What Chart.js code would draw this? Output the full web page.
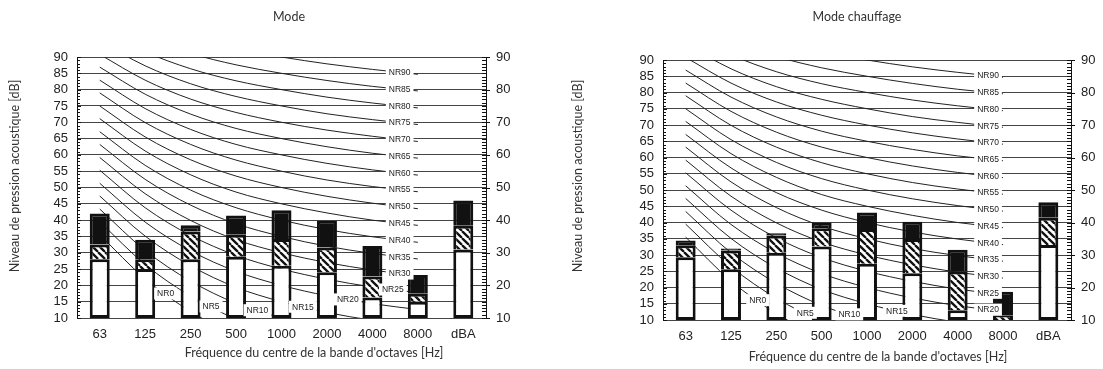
<!DOCTYPE html>
<html>
<head>
<meta charset="utf-8">
<script src="https://cdn.jsdelivr.net/npm/chart.js@4.4.0/dist/chart.umd.min.js"></script>
<style>
html,body{margin:0;padding:0;background:#fff;}
#wrap{position:relative;width:1103px;height:369px;overflow:hidden;}
canvas{position:absolute;top:0;}
</style>
</head>
<body>
<div id="wrap">
  <canvas id="modeChart" width="552" height="369" style="left:0"></canvas>
  <canvas id="chauffChart" width="552" height="369" style="left:551px"></canvas>
</div>
<script>
// octave bands + overall level
const BANDS = ['63','125','250','500','1000','2000','4000','8000','dBA'];

// "Mode": top of each layer in dB (white / hatched / black)
const modeWhite = [28, 25, 28, 28.8, 26, 24, 16.3, 15, 31];
const modeHatch = [32.5, 28, 36.5, 35.5, 34.2, 31.6, 22.7, 17.4, 38.3];
const modeTotal = [42, 34, 38.4, 41.4, 43, 39.8, 32.1, 23.2, 46];

// "Mode chauffage"
const chauffWhite = [29.3, 25.6, 30.7, 32.6, 27.3, 24.4, 13, 10, 33.1];
const chauffHatch = [33, 31.4, 36, 38.2, 38, 34.9, 24.9, 11.5, 41.5];
const chauffTotal = [34.5, 32, 36.7, 40, 43.1, 40.2, 31.6, 18.7, 46.2];

// NR curves, 63..8000 Hz (no value for dBA)
const NR_LEVELS = [0,5,10,15,20,25,30,35,40,45,50,55,60,65,70,75,80,85,90];
const NR_CURVES = [
  [35.5, 22.0, 12.0,  4.8,  0, -3.5, -6.1, -8.0, null],
  [39.5, 26.4, 16.7,  9.7,  5,  1.6, -1.0, -2.9, null],
  [43.4, 30.7, 21.3, 14.5, 10,  6.7,  4.2,  2.3, null],
  [47.4, 35.1, 26.0, 19.4, 15, 11.7,  9.3,  7.5, null],
  [51.3, 39.4, 30.6, 24.3, 20, 16.8, 14.4, 12.6, null],
  [55.3, 43.8, 35.3, 29.2, 25, 21.9, 19.5, 17.8, null],
  [59.2, 48.1, 39.9, 34.0, 30, 27.0, 24.7, 22.9, null],
  [63.2, 52.5, 44.6, 38.9, 35, 32.0, 29.8, 28.1, null],
  [67.1, 56.8, 49.2, 43.8, 40, 37.1, 34.9, 33.2, null],
  [71.1, 61.2, 53.9, 48.6, 45, 42.2, 40.0, 38.4, null],
  [75.0, 65.5, 58.5, 53.5, 50, 47.3, 45.2, 43.5, null],
  [79.0, 69.9, 63.2, 58.4, 55, 52.3, 50.3, 48.7, null],
  [82.9, 74.2, 67.8, 63.2, 60, 57.4, 55.4, 53.8, null],
  [86.9, 78.6, 72.5, 68.1, 65, 62.5, 60.5, 59.0, null],
  [90.8, 82.9, 77.1, 73.0, 70, 67.6, 65.7, 64.1, null],
  [94.8, 87.3, 81.8, 77.9, 75, 72.6, 70.8, 69.3, null],
  [98.7, 91.6, 86.4, 82.7, 80, 77.7, 75.9, 74.4, null],
  [102.7, 96.0, 91.1, 87.6, 85, 82.8, 81.0, 79.6, null],
  [106.6, 100.3, 95.7, 92.5, 90, 87.9, 86.2, 84.7, null]
];

// where each NR tag sits along the band axis (band index)
const modeLabelAt   = [1.45, 2.45, 3.47, 4.47, 5.46, 6.45, 6.6, 6.6, 6.6, 6.6, 6.6, 6.6, 6.6, 6.6, 6.6, 6.6, 6.6, 6.6, 6.6];
const chauffLabelAt = [1.59, 2.64, 3.61, 4.66, 6.67, 6.67, 6.67, 6.67, 6.67, 6.67, 6.67, 6.67, 6.67, 6.67, 6.67, 6.67, 6.67, 6.67, 6.67];

Chart.defaults.font.family = '"Liberation Sans", Arial, sans-serif';
Chart.defaults.color = '#222';

function hatchPattern(){
  const s = 7, c = document.createElement('canvas');
  c.width = c.height = s;
  const g = c.getContext('2d');
  g.fillStyle = '#fff'; g.fillRect(0,0,s,s);
  g.strokeStyle = '#111'; g.lineWidth = 2.3;
  g.beginPath();
  [-s,0,s].forEach(k=>{ g.moveTo(k,0); g.lineTo(k+s,s); });
  g.stroke();
  return g.createPattern(c,'repeat');
}

function curveAt(vals, x){
  const i = Math.floor(x), f = x - i;
  return vals[i] + (vals[i+1] - vals[i]) * f;
}

// minor ticks, NR tags and the text around each panel
const framePlugin = {
  id:'frame',
  afterDatasetsDraw(chart, args, o){
    const {ctx, scales:{x, y}} = chart;
    ctx.save();
    ctx.font = '8.5px "Liberation Sans", Arial, sans-serif';
    ctx.textAlign = 'center'; ctx.textBaseline = 'middle';
    o.labelAt.forEach((pos,i)=>{
      const px = x.getPixelForValue(pos);
      const py = y.getPixelForValue(curveAt(NR_CURVES[i], pos));
      const t = 'NR' + NR_LEVELS[i];
      const w = ctx.measureText(t).width + 6;
      ctx.fillStyle = '#fff';
      ctx.fillRect(px - w/2, py - 6, w, 12);
      ctx.fillStyle = '#222';
      ctx.fillText(t, px, py + 0.5);
    });
    ctx.restore();
  },
  afterDraw(chart, args, o){
    const {ctx, chartArea:a, scales:{y}} = chart;
    ctx.save();
    ctx.strokeStyle = '#111'; ctx.lineWidth = 1;
    for(let v=10; v<=90; v++){
      const py = Math.round(y.getPixelForValue(v)) + 0.5;
      ctx.beginPath();
      ctx.moveTo(a.left, py); ctx.lineTo(a.left + (v%5 ? 3 : 4), py);
      ctx.moveTo(a.right - 4, py); ctx.lineTo(a.right + (v%10 ? 1 : 4), py);
      ctx.stroke();
    }
    ctx.fillStyle = '#333';
    ctx.font = '12.5px Lato, sans-serif';
    ctx.textAlign = 'center'; ctx.textBaseline = 'middle';
    ctx.fillText(o.title, o.titleX, 17);
    ctx.fillText("Fréquence du centre de la bande d'octaves [Hz]", o.xTitleX, o.xTitleY);
    ctx.translate(o.yTitleX, 176);
    ctx.rotate(-Math.PI/2);
    ctx.fillText('Niveau de pression acoustique [dB]', 0, 0);
    ctx.restore();
  }
};

function makeChart(id, white, hatch, total, labelAt, L){
  const bar = {grouped:false, barPercentage:0.44, categoryPercentage:1, borderColor:'#111', borderWidth:3, order:0};
  const curves = NR_CURVES.map(vals=>({
    type:'line', data:vals, borderColor:'#222', borderWidth:1, pointRadius:0,
    cubicInterpolationMode:'monotone', order:2
  }));
  return new Chart(document.getElementById(id), {
    type:'bar',
    data:{
      labels:BANDS,
      datasets:[
        Object.assign({data:white.map(v=>[10,v]), backgroundColor:'#fff', borderSkipped:false}, bar),
        Object.assign({data:hatch.map((v,i)=>[white[i],v]), backgroundColor:hatchPattern(), borderSkipped:'bottom'}, bar),
        Object.assign({data:total.map((v,i)=>[hatch[i],v]), backgroundColor:'#111', borderSkipped:'bottom'}, bar),
        ...curves
      ]
    },
    options:{
      responsive:false, animation:false,
      layout:{padding:{top:L.top, left:0, right:0, bottom:0}},
      plugins:{
        legend:{display:false}, tooltip:{enabled:false},
        frame:{labelAt, title:L.title, titleX:L.titleX, xTitleX:L.xTitleX, xTitleY:L.xTitleY, yTitleX:L.yTitleX}
      },
      scales:{
        x:{
          grid:{display:false, drawTicks:false}, border:{display:false},
          ticks:{font:{size:13}, padding:9, maxRotation:0, autoSkip:false},
          afterFit:s=>{ s.height = L.bottom; }
        },
        y:{
          min:10, max:90,
          ticks:{stepSize:5, font:{size:13}, padding:9, autoSkip:false},
          grid:{color:'#444', lineWidth:1, drawTicks:false},
          border:{color:'#111', width:1},
          afterFit:s=>{ s.width = L.left; }
        },
        y2:{
          position:'right', min:10, max:90,
          ticks:{stepSize:10, font:{size:13}, padding:10, autoSkip:false},
          grid:{drawOnChartArea:false, drawTicks:false},
          border:{color:'#111', width:1},
          afterFit:s=>{ s.width = L.right; }
        }
      }
    },
    plugins:[framePlugin]
  });
}

makeChart('modeChart', modeWhite, modeHatch, modeTotal, modeLabelAt,
  {top:57, left:77, right:66, bottom:51, title:'Mode', titleX:289, xTitleX:314, xTitleY:353, yTitleX:15});
makeChart('chauffChart', chauffWhite, chauffHatch, chauffTotal, chauffLabelAt,
  {top:60, left:112, right:32, bottom:49, title:'Mode chauffage', titleX:306, xTitleX:327, xTitleY:357, yTitleX:27});
</script>
</body>
</html>
